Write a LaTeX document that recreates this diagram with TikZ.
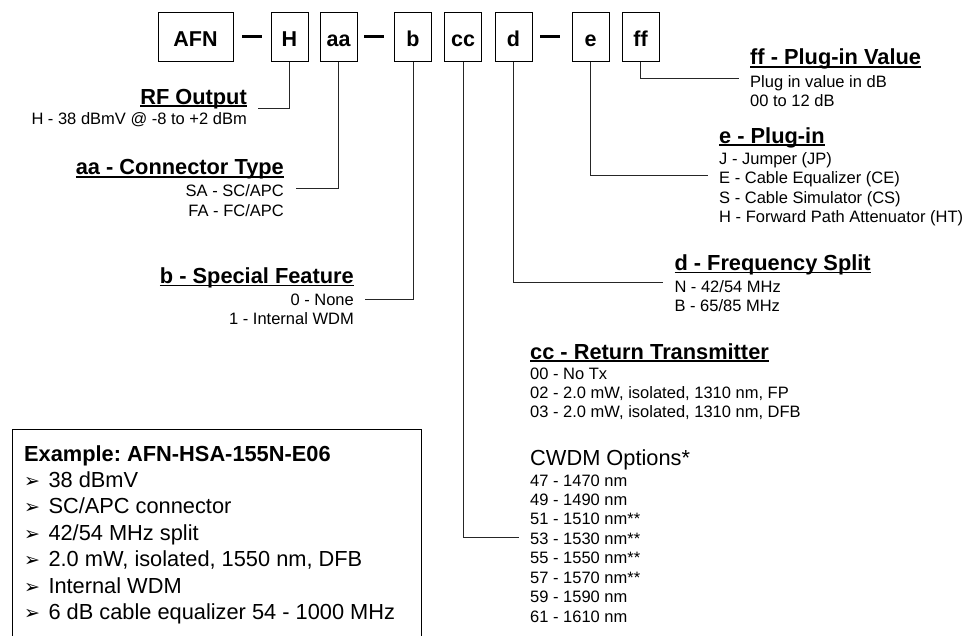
\documentclass[tikz,border=0pt]{standalone}
\usepackage{fontspec}
\setmainfont{Liberation Sans}
\newfontfamily\dejavu{DejaVu Sans}
\frenchspacing
\newcommand\ulx[1]{\setbox0\hbox{#1}\rlap{\rule[-2.7pt]{\wd0}{1.6pt}}\box0}
\newcommand\bul{{\dejavu\fontsize{19}{22}\selectfont ➢}}
\tikzset{
  codebox/.style={draw=black, line width=0.9pt, minimum width=37pt, minimum height=49pt,
    inner sep=0pt, text height=19.4pt, text depth=0pt, font=\fontsize{21.5}{25}\selectfont\bfseries},
  hyph/.style={line width=3pt},
  ttl/.style={font=\fontsize{21.8}{26}\selectfont\bfseries, inner sep=0pt},
  body/.style={font=\fontsize{16.5}{19.7}\selectfont, inner sep=0pt},
  big/.style={font=\fontsize{21.8}{26}\selectfont, inner sep=0pt},
  link/.style={draw=black!85, line width=1pt},
}
\begin{document}
\begin{tikzpicture}[x=1pt, y=-1pt]
\useasboundingbox[fill=white] (0,0) rectangle (963,636);

% code boxes
\node[codebox, minimum width=75pt] (afn) at (195.5,37) {AFN};
\node[codebox] (hbox)  at (289.5,37) {H};
\node[codebox] (aabox) at (338.5,37) {aa};
\node[codebox] (bbox)  at (413,37)   {b};
\node[codebox] (ccbox) at (463,37)   {cc};
\node[codebox] (dbox)  at (513.5,37) {d};
\node[codebox] (ebox)  at (590.5,37) {e};
\node[codebox] (ffbox) at (640.5,37) {ff};
\draw[hyph] (242,37) -- (262,37);
\draw[hyph] (364,37) -- (384,37);
\draw[hyph] (540,37) -- (560,37);

% RF Output
\node[ttl, anchor=base east] (rft) at (247,104.3) {\ulx{RF Output}};
\node[body, anchor=base east] (rf1) at (247,124.5) {H - 38 dBmV @ -8 to +2 dBm};
% Connector type
\node[ttl, anchor=base east] (aat) at (284,175) {\ulx{aa - Connector Type}};
\node[body, anchor=base east] (aa1) at (284,197) {SA - SC/APC};
\node[body, anchor=base east] (aa2) at (284,216.7) {FA - FC/APC};
% Special feature
\node[ttl, anchor=base east] (bt) at (354,283.5) {\ulx{b - Special Feature}};
\node[body, anchor=base east] (b1) at (354,305) {0 - None};
\node[body, anchor=base east] (b2) at (354,324.7) {1 - Internal WDM};

% ff
\node[ttl, anchor=base west] (fft) at (750,65) {\ulx{ff - Plug-in Value}};
\node[body, anchor=base west] (ff1) at (750,87.3) {Plug in value in dB};
\node[body, anchor=base west] (ff2) at (750,107) {00 to 12 dB};
% e
\node[ttl, anchor=base west] (et) at (719,143.3) {\ulx{e - Plug-in}};
\foreach \t [count=\i] in {J - Jumper (JP), E - Cable Equalizer (CE), S - Cable Simulator (CS), H - Forward Path Attenuator (HT)}
  \node[body, anchor=base west] (e\i) at (719,{164.5+19.4*(\i-1)}) {\t};
% d
\node[ttl, anchor=base west] (dt) at (674.3,270.7) {\ulx{d - Frequency Split}};
\node[body, anchor=base west] (d1) at (674.3,292.3) {N - 42/54 MHz};
\node[body, anchor=base west] (d2) at (674.3,311.7) {B - 65/85 MHz};
% cc
\node[ttl, anchor=base west] (cct) at (530,359) {\ulx{cc - Return Transmitter}};
\node[body, anchor=base west] (cc1) at (530,379.3) {00 - No Tx};
\node[body, anchor=base west] (cc2) at (530,398.3) {02 - 2.0 mW, isolated, 1310 nm, FP};
\node[body, anchor=base west] (cc3) at (530,417.3) {03 - 2.0 mW, isolated, 1310 nm, DFB};
\node[big, anchor=base west] (cwt) at (530,465) {CWDM Options*};
\foreach \t [count=\i] in {47 - 1470 nm, 49 - 1490 nm, 51 - 1510 nm**, 53 - 1530 nm**, 55 - 1550 nm**, 57 - 1570 nm**, 59 - 1590 nm, 61 - 1610 nm}
  \node[body, anchor=base west] (cw\i) at (530,{486+19.47*(\i-1)}) {\t};

% connectors
\coordinate (hend)  at (258,108.3);
\coordinate (aaend) at (295.7,188.3);
\coordinate (bend)  at (365,299.3);
\coordinate (ccend) at (519.3,537.7);
\coordinate (dend)  at (662.7,282.3);
\coordinate (eend)  at (707.7,176);
\coordinate (ffend) at (739,79);
\draw[link] (hbox.south)  |- (hend);
\draw[link] (aabox.south) |- (aaend);
\draw[link] (bbox.south)  |- (bend);
\draw[link] (ccbox.south) |- (ccend);
\draw[link] (dbox.south)  |- (dend);
\draw[link] (ebox.south)  |- (eend);
\draw[link] (ffbox.south) |- (ffend);

% example box
\draw[line width=0.9pt] (12.7,636) -- (12.7,429.3) -- (421,429.3) -- (421,636);
\node[ttl, anchor=base west] (ext) at (24,461) {Example: AFN-HSA-155N-E06};
\foreach \t [count=\i] in {38 dBmV, SC/APC connector, 42/54 MHz split, {2.0 mW, isolated, 1550 nm, DFB}, Internal WDM, 6 dB cable equalizer 54 - 1000 MHz}
{
  \node[big, anchor=base west] (ex\i) at (48.3,{487.3+26.5*(\i-1)}) {\t};
  \node[inner sep=0pt, anchor=base west] (exb\i) at (24,{487.3+26.5*(\i-1)}) {\bul};
}
\end{tikzpicture}
\end{document}
